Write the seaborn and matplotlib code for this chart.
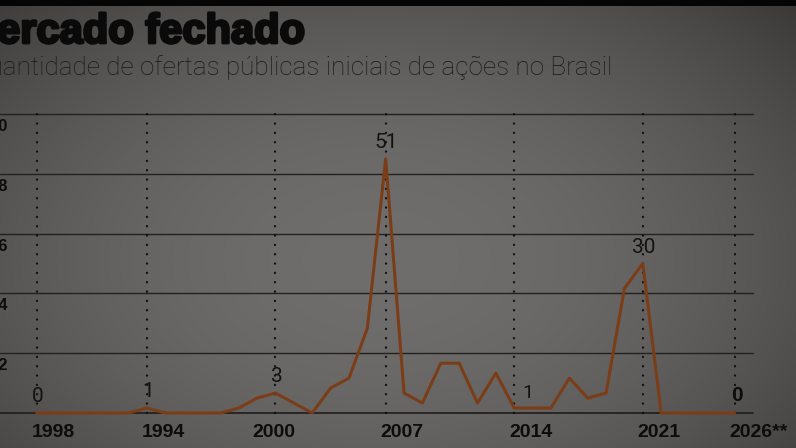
import seaborn as sns
import matplotlib.pyplot as plt
import matplotlib.patheffects as pe
import pandas as pd
import numpy as np
from matplotlib.transforms import ScaledTranslation

# Dados: ofertas públicas iniciais (IPOs) por ano
anos = list(range(1988, 2027))
ofertas = [0, 0, 0, 0, 0, 0, 1, 0, 0, 0, 0, 1, 3, 4, 2, 0, 5, 7, 17, 51,
           4, 2, 10, 10, 2, 8, 1, 1, 1, 7, 3, 4, 25, 30, 0, 0, 0, 0, 0]

# Rótulos do eixo x (como impressos no original)
tick_anos = [1988, 1994, 2000, 2007, 2014, 2021, 2026]
tick_rotulos = ['1998', '1994', '2000', '2007', '2014', '2021', '2026**']

# Linhas pontilhadas verticais
anos_marcados = [1988, 1994, 2001, 2007, 2014, 2021, 2026]

# Valores destacados no gráfico
destaque_anos = [1988, 1994, 2001, 2007, 2014, 2021, 2026]
destaque_txt = ['0', '1', '3', '51', '1', '30', '0']

grade_y = [12, 24, 36, 48, 60]

df = pd.DataFrame({'ano': anos, 'ofertas': ofertas})

sns.set_style("white")
plt.rcParams['font.family'] = ['DejaVu Sans']

fig = plt.figure(figsize=(7.96, 4.48), dpi=100)

# Fundo escuro de foto, com vinheta
h, w = 448, 796
yy, xx = np.mgrid[0:h, 0:w]
r = np.sqrt(((xx - 380) / 520) ** 2 + ((yy - 260) / 340) ** 2)
shade = np.clip(1 - 0.40 * r ** 2, 0.45, 1)
img = shade[..., None] * (np.array([112, 110, 108]) / 255)
img[:6] = 0.02
bg = fig.add_axes([0, 0, 1, 1], zorder=-1)
bg.imshow(img, aspect='auto')
bg.axis('off')

ax = fig.add_axes([0, 35 / 448, 753 / 796, (413 - 114) / 448])
ax.set_facecolor('none')

# Grade horizontal e linha de base
for v in grade_y:
    ax.axhline(v, color='#222120', lw=1.0, clip_on=False, zorder=1)
ax.axhline(0, color='#1e1d1c', lw=1.2, clip_on=False, zorder=1)

# Linhas pontilhadas
for yr in anos_marcados:
    ax.axvline(yr, color='#0e0e0e', lw=1.6, linestyle=(0, (0.1, 4.1)),
               dash_capstyle='round', clip_on=False, zorder=2)

sns.lineplot(data=df, x='ano', y='ofertas', color='#7b3d18', lw=2.2, ax=ax,
             zorder=3)
for ln in ax.lines:
    ln.set_clip_on(False)

ax.set_xlim(1986, 2027)
ax.set_ylim(0, 60)
sns.despine(ax=ax, left=True, bottom=True)
ax.set_xlabel('')
ax.set_ylabel('')
ax.set_yticks([])

ax.set_xticks(tick_anos, labels=tick_rotulos)
ax.tick_params(axis='x', length=0, pad=8)
for lbl in ax.get_xticklabels():
    lbl.set_fontfamily(['Liberation Sans', 'DejaVu Sans'])
    lbl.set_fontweight('bold')
    lbl.set_fontsize(14)
    lbl.set_color('#0c0c0c')
    lbl.set_ha('left')
    lbl.set_transform(lbl.get_transform() +
                      ScaledTranslation(-5 / 100, 0, fig.dpi_scale_trans))

# Rótulos do eixo y (cortados pela borda da foto)
for v in grade_y:
    ax.annotate(str(v), xy=(0, v), xycoords=('axes fraction', 'data'),
                xytext=(8, -5), textcoords='offset pixels', ha='right', va='top',
                fontsize=12, fontweight='bold', color='#0c0c0c',
                family=['Liberation Sans', 'DejaVu Sans'], annotation_clip=False)

# Valores destacados
valor = dict(zip(anos, ofertas))
for yr, txt in zip(destaque_anos, destaque_txt):
    if yr == 2014:
        ax.annotate(txt, xy=(yr, valor[yr]), xytext=(8, 6), textcoords='offset pixels',
                    ha='left', va='bottom', fontsize=14, color='#121212',
                    family=['Roboto', 'DejaVu Sans'])
    elif yr == 2026:
        ax.annotate(txt, xy=(yr, valor[yr]), xytext=(2, 8), textcoords='offset pixels',
                    ha='center', va='bottom', fontsize=15, fontweight='bold',
                    color='#0c0c0c', family=['Liberation Sans', 'DejaVu Sans'])
    else:
        ax.annotate(txt, xy=(yr, valor[yr]), xytext=(1, 7), textcoords='offset pixels',
                    ha='center', va='bottom', fontsize=15, color='#121212',
                    family=['Roboto', 'DejaVu Sans'])

# Títulos
fig.text(305 / 796, (448 - 43) / 448, 'Mercado fechado', ha='right', va='baseline',
         fontsize=30, fontweight='bold', color='#0a0a0a',
         family=['Liberation Sans', 'DejaVu Sans'],
         path_effects=[pe.withStroke(linewidth=2, foreground='#0a0a0a')])
fig.text(612 / 796, (448 - 75) / 448,
         'Quantidade de ofertas públicas iniciais de ações no Brasil',
         ha='right', va='baseline', fontsize=18.8, fontweight='light',
         color='#1a1919', family=['Roboto', 'DejaVu Sans'])

fig.savefig('out.png', dpi=100)
